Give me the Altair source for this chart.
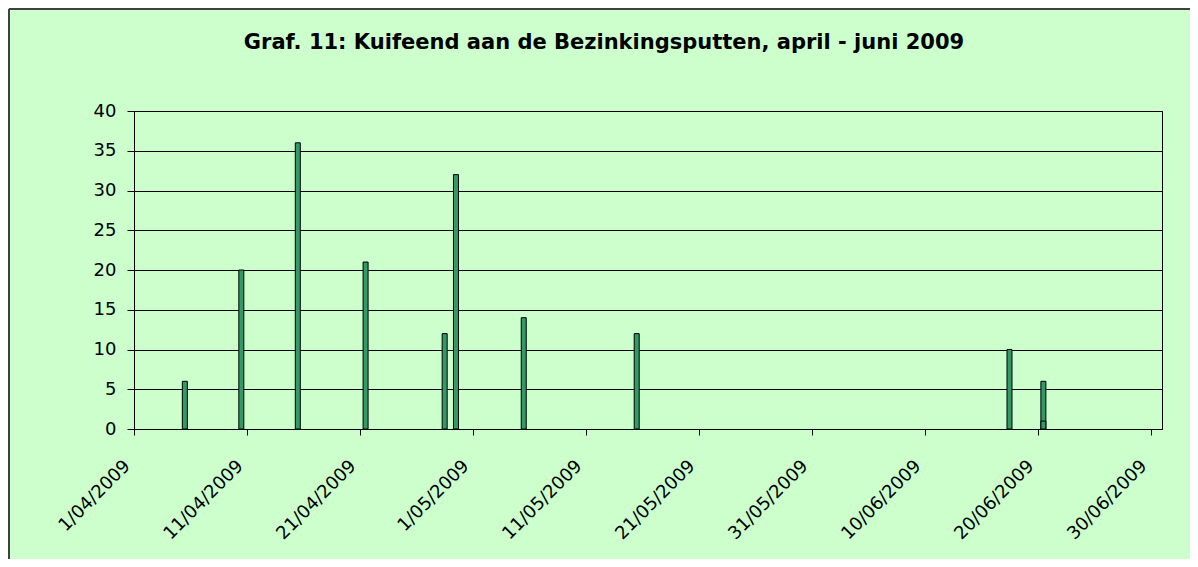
import altair as alt
import pandas as pd

# ---- data ----
dates = ["5/04/2009", "10/04/2009", "15/04/2009", "21/04/2009", "28/04/2009",
         "29/04/2009", "5/05/2009", "15/05/2009", "17/06/2009", "20/06/2009",
         "20/06/2009"]
counts = [6, 20, 36, 21, 12, 32, 14, 12, 10, 6, 1]

tick_labels = ["1/04/2009", "11/04/2009", "21/04/2009", "1/05/2009", "11/05/2009",
               "21/05/2009", "31/05/2009", "10/06/2009", "20/06/2009", "30/06/2009"]
y_ticks = [0, 5, 10, 15, 20, 25, 30, 35, 40]
title_text = "Graf. 11: Kuifeend aan de Bezinkingsputten, april - juni 2009"

start = pd.Timestamp(2009, 4, 1)
days = (pd.to_datetime(dates, format="%d/%m/%Y") - start).days
df = pd.DataFrame({"datum": dates, "dag": [d + 0.5 for d in days], "aantal": counts})
tick_days = [int((pd.to_datetime(t, format="%d/%m/%Y") - start).days) for t in tick_labels]

label_expr = "[" + ",".join("'%s'" % t for t in tick_labels) + "][indexof([" + \
    ",".join(str(t) for t in tick_days) + "], datum.value)]"

FONT = "DejaVu Sans"
W, H = 1028, 318
PAD_L, PAD_T = 126, 103
TOTAL_W, TOTAL_H = 1182, 551

bars = alt.Chart(df).mark_bar(size=5, color="#339966", stroke="black", strokeWidth=1).encode(
    x=alt.X("dag:Q", scale=alt.Scale(domain=[0, 91], nice=False, zero=False, padding=0),
            axis=alt.Axis(values=tick_days, labelExpr=label_expr, labelAngle=-45,
                          labelAlign="right", labelBaseline="middle", labelPadding=28,
                          labelOffset=-7, tickSize=6, grid=False, title=None,
                          domainColor="black", tickColor="black")),
    y=alt.Y("aantal:Q", stack=None, scale=alt.Scale(domain=[0, 40], nice=False, padding=0),
            axis=alt.Axis(values=y_ticks, grid=True, gridColor="black", gridOpacity=1,
                          tickSize=7, labelPadding=11, title=None,
                          domainColor="black", tickColor="black")),
    tooltip=["datum", "aantal"],
)

title = alt.Chart(pd.DataFrame({"t": [title_text]})).mark_text(
    font=FONT, fontSize=21, fontWeight="bold", color="black",
    align="center", baseline="alphabetic"
).encode(text="t:N", x=alt.value(470), y=alt.value(-62))

border = pd.DataFrame({"k": [0]})
top_line = alt.Chart(border).mark_rule(stroke="#404040", strokeWidth=2).encode(
    x=alt.value(1 - PAD_L), x2=alt.value(TOTAL_W - PAD_L), y=alt.value(1 - PAD_T)
)
left_line = alt.Chart(border).mark_rule(stroke="#404040", strokeWidth=2).encode(
    x=alt.value(1 - PAD_L), y=alt.value(1 - PAD_T), y2=alt.value(TOTAL_H - PAD_T)
)

chart = alt.layer(bars, title, top_line, left_line).properties(
    width=W, height=H,
    autosize=alt.AutoSizeParams(type="none"),
    padding={"left": PAD_L, "top": PAD_T,
             "right": TOTAL_W - PAD_L - W, "bottom": TOTAL_H - PAD_T - H},
).configure(
    background="#CCFFCC",
).configure_view(
    stroke="black", strokeWidth=1,
).configure_axis(
    labelFont=FONT, labelFontSize=18, labelColor="black",
)

chart.save("out.html", embed_options={"renderer": "svg", "actions": False})
